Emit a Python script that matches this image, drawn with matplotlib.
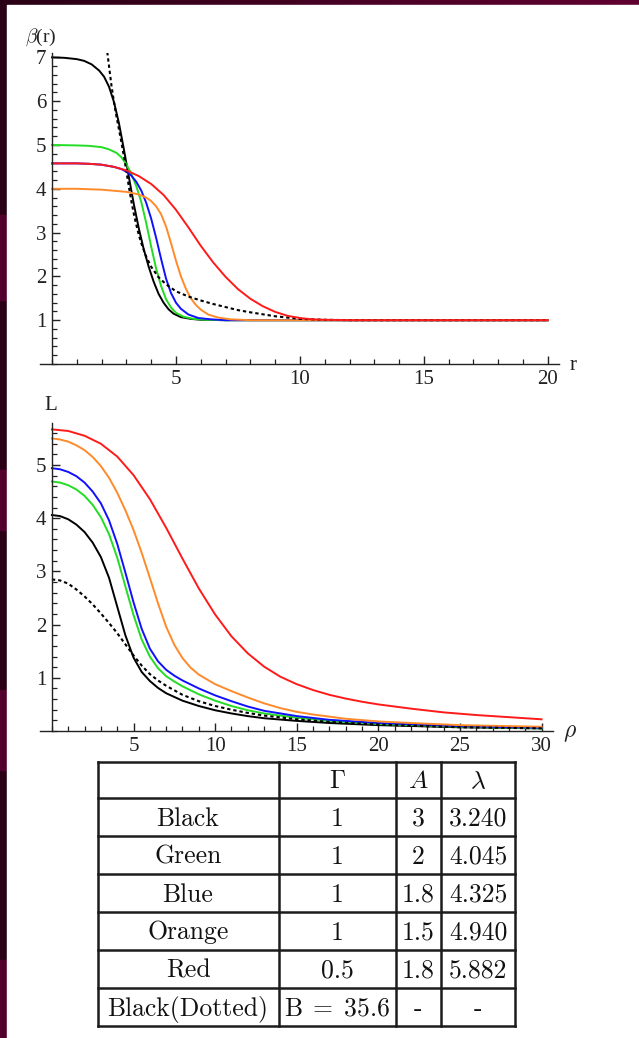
import matplotlib
matplotlib.use("Agg")
import matplotlib.pyplot as plt
import numpy as np
from matplotlib.patches import Rectangle
from matplotlib.ticker import MultipleLocator

plt.rcParams['mathtext.fontset'] = 'cm'
plt.rcParams['font.family'] = ['Liberation Serif', 'DejaVu Serif']

# ---- top panel : beta(r) ----
r_black = [0, 0.5, 1.0, 1.3, 1.6, 1.9, 2.1, 2.3, 2.5, 2.7, 2.9, 3.1, 3.3, 3.5, 3.7, 3.9, 4.1, 4.3, 4.5, 4.7, 4.9, 5.2, 5.6, 6.0, 7.0, 20]
b_black = [7.00, 6.99, 6.96, 6.92, 6.84, 6.70, 6.56, 6.33, 5.98, 5.50, 4.90, 4.27, 3.65, 3.10, 2.62, 2.22, 1.88, 1.60, 1.40, 1.25, 1.15, 1.07, 1.03, 1.01, 1.0, 1.0]
r_green = [0, 1.0, 1.5, 2.0, 2.3, 2.6, 2.8, 3.0, 3.2, 3.4, 3.6, 3.8, 4.0, 4.2, 4.4, 4.6, 4.8, 5.0, 5.3, 5.7, 6.2, 7.0, 20]
b_green = [5.0, 4.99, 4.98, 4.95, 4.90, 4.82, 4.72, 4.56, 4.34, 4.06, 3.70, 3.22, 2.68, 2.18, 1.78, 1.48, 1.29, 1.17, 1.08, 1.03, 1.01, 1.0, 1.0]
r_blue = [0, 1.0, 1.5, 2.0, 2.5, 2.8, 3.0, 3.2, 3.4, 3.6, 3.8, 4.0, 4.2, 4.4, 4.6, 4.8, 5.0, 5.2, 5.5, 5.9, 6.4, 7.0, 20]
b_blue = [4.58, 4.58, 4.57, 4.55, 4.50, 4.45, 4.39, 4.30, 4.16, 3.96, 3.68, 3.32, 2.88, 2.40, 1.95, 1.62, 1.40, 1.26, 1.13, 1.05, 1.02, 1.0, 1.0]
r_orange = [0, 1.0, 2.0, 3.0, 3.5, 3.8, 4.0, 4.2, 4.4, 4.6, 4.8, 5.0, 5.2, 5.4, 5.6, 5.8, 6.0, 6.3, 6.7, 7.2, 8.0, 20]
b_orange = [4.0, 4.0, 3.98, 3.93, 3.87, 3.80, 3.72, 3.60, 3.42, 3.14, 2.76, 2.36, 2.00, 1.72, 1.50, 1.35, 1.24, 1.13, 1.06, 1.02, 1.0, 1.0]
r_red = [0, 1, 1.5, 2, 2.5, 3, 3.5, 4, 4.5, 5, 5.5, 6, 6.5, 7, 7.5, 8, 8.5, 9, 9.5, 10, 10.5, 11, 12, 20]
b_red = [4.58, 4.58, 4.57, 4.55, 4.50, 4.42, 4.29, 4.11, 3.86, 3.52, 3.12, 2.70, 2.32, 1.99, 1.71, 1.49, 1.32, 1.19, 1.10, 1.05, 1.02, 1.01, 1.0, 1.0]
r_dot = [2.23, 2.3, 2.4, 2.5, 2.6, 2.7, 2.8, 2.9, 3.0, 3.1, 3.2, 3.3, 3.4, 3.5, 3.6, 3.8, 4.0, 4.3, 4.6, 5.0, 5.5, 6.0, 6.5, 7.0, 7.5, 8.0, 9.0, 10.0, 11.0, 12.0, 20]
b_dot = [7.12, 6.80, 6.35, 5.98, 5.65, 5.36, 5.06, 4.74, 4.40, 4.05, 3.72, 3.43, 3.18, 2.95, 2.76, 2.45, 2.22, 1.98, 1.82, 1.66, 1.54, 1.45, 1.37, 1.30, 1.23, 1.18, 1.09, 1.03, 1.01, 1.0, 1.0]

# ---- bottom panel : L(rho) ----
p_red = [0, 1, 2, 3, 4, 5, 6, 7, 8, 9, 10, 11, 12, 13, 14, 15, 16, 17, 18, 19, 20, 22, 24, 26, 28, 30]
L_red = [5.67, 5.64, 5.55, 5.40, 5.16, 4.81, 4.36, 3.82, 3.24, 2.68, 2.19, 1.78, 1.46, 1.21, 1.02, 0.88, 0.77, 0.68, 0.61, 0.55, 0.50, 0.42, 0.35, 0.30, 0.26, 0.22]
p_orange = [0, 0.5, 1, 1.5, 2, 2.5, 3, 3.5, 4, 4.5, 5, 5.5, 6, 6.5, 7, 7.5, 8, 8.5, 9, 10, 11, 12, 13, 14, 15, 16, 17, 18, 20, 22, 25, 30]
L_orange = [5.50, 5.48, 5.44, 5.37, 5.28, 5.15, 4.98, 4.76, 4.48, 4.15, 3.78, 3.35, 2.88, 2.40, 1.96, 1.62, 1.37, 1.19, 1.06, 0.88, 0.75, 0.63, 0.52, 0.43, 0.36, 0.31, 0.27, 0.23, 0.18, 0.15, 0.11, 0.08]
p_blue = [0, 0.5, 1, 1.5, 2, 2.5, 3, 3.5, 4, 4.5, 5, 5.5, 6, 6.5, 7, 7.5, 8, 9, 10, 11, 12, 13, 14, 15, 17, 20, 25, 30]
L_blue = [4.94, 4.92, 4.87, 4.79, 4.67, 4.50, 4.28, 3.96, 3.52, 2.98, 2.42, 1.92, 1.55, 1.31, 1.15, 1.04, 0.95, 0.80, 0.67, 0.56, 0.46, 0.38, 0.33, 0.28, 0.21, 0.15, 0.09, 0.06]
p_green = [0, 0.5, 1, 1.5, 2, 2.5, 3, 3.5, 4, 4.5, 5, 5.5, 6, 6.5, 7, 7.5, 8, 9, 10, 11, 12, 13, 14, 15, 17, 20, 25, 30]
L_green = [4.69, 4.67, 4.62, 4.54, 4.42, 4.25, 4.02, 3.70, 3.26, 2.72, 2.18, 1.72, 1.40, 1.18, 1.03, 0.93, 0.84, 0.69, 0.57, 0.47, 0.39, 0.33, 0.29, 0.25, 0.19, 0.13, 0.08, 0.05]
p_black = [0, 0.5, 1, 1.5, 2, 2.5, 3, 3.5, 4, 4.5, 5, 5.5, 6, 6.5, 7, 8, 9, 10, 11, 12, 13, 15, 17, 20, 25, 30]
L_black = [4.06, 4.04, 3.98, 3.88, 3.74, 3.54, 3.27, 2.88, 2.34, 1.80, 1.38, 1.11, 0.94, 0.81, 0.71, 0.57, 0.47, 0.39, 0.33, 0.28, 0.24, 0.19, 0.15, 0.11, 0.07, 0.05]
p_dot = [0, 0.5, 1, 1.5, 2, 2.5, 3, 3.5, 4, 4.5, 5, 5.5, 6, 6.5, 7, 8, 9, 10, 11, 12, 13, 15, 17, 20, 25, 30]
L_dot = [2.85, 2.83, 2.77, 2.66, 2.53, 2.38, 2.21, 2.03, 1.84, 1.63, 1.42, 1.23, 1.07, 0.95, 0.85, 0.68, 0.56, 0.47, 0.40, 0.34, 0.29, 0.22, 0.17, 0.12, 0.07, 0.05]

# ---- table ----
row_names = ["Black", "Green", "Blue", "Orange", "Red", "Black(Dotted)"]
gamma_vals = ["1", "1", "1", "1", "0.5", r"$\mathrm{B}\;=\;35.6$"]
A_vals = ["3", "2", "1.8", "1.5", "1.8", "-"]
lam_vals = ["3.240", "4.045", "4.325", "4.940", "5.882", "-"]
headers = ["", r"$\Gamma$", r"$A$", r"$\lambda$"]

c_black = "#000000"
c_green = "#22dd22"
c_blue = "#1010ff"
c_orange = "#ff8a2a"
c_red = "#ff1a1a"
c_text = "#222222"

W, H = 639, 1038
fig = plt.figure(figsize=(W / 100, H / 100), dpi=100)

# background frame
bg = fig.add_axes([0, 0, 1, 1])
bg.axis('off')
grad = np.linspace(0, 1, 200)
top_cols = np.zeros((1, 200, 3))
top_cols[0, :, 0] = 0.16 + 0.22 * grad
top_cols[0, :, 2] = 0.08 + 0.11 * grad
bg.imshow(top_cols, extent=[0, W, 6, 0], aspect='auto', zorder=0)
bg.add_patch(Rectangle((0, 0), 7, H, color='#2b0017', zorder=1))
for y0, h in [(215, 85), (470, 60), (690, 80), (960, 78)]:
    bg.add_patch(Rectangle((0, y0), 7, h, color='#5c0032', alpha=0.8, zorder=1))
bg.add_patch(Rectangle((7, 5), W - 7, H - 5, color='white', zorder=2))
bg.set_xlim(0, W)
bg.set_ylim(H, 0)


def style(ax):
    for s in ['top', 'right']:
        ax.spines[s].set_visible(False)
    ax.spines['left'].set_position(('data', 0))
    for s in ['left', 'bottom']:
        ax.spines[s].set_linewidth(1.0)
        ax.spines[s].set_color(c_text)
    ax.set_facecolor('none')
    ax.tick_params(which='major', direction='in', length=6, width=1.0, color=c_text,
                   pad=4, labelsize=15, labelcolor=c_text)
    ax.tick_params(which='minor', direction='in', length=3.5, width=0.9, color=c_text)


lw = 1.4
dot_style = (0, (1.6, 1.4))

ax1 = fig.add_axes([39.6 / W, 1 - 364 / H, (559 - 39.6) / W, (364 - 53) / H])
ax1.plot(r_black, b_black, color=c_black, lw=lw)
ax1.plot(r_green, b_green, color=c_green, lw=lw)
ax1.plot(r_blue, b_blue, color=c_blue, lw=lw)
ax1.plot(r_orange, b_orange, color=c_orange, lw=lw)
ax1.plot(r_dot, b_dot, color=c_black, lw=1.5, ls=dot_style)
ax1.plot(r_red, b_red, color=c_red, lw=lw)
ax1.set_xlim(-0.5, 20.45)
ax1.set_ylim(0, 7.1)
ax1.set_xticks([5, 10, 15, 20])
ax1.set_yticks([1, 2, 3, 4, 5, 6, 7])
ax1.xaxis.set_minor_locator(MultipleLocator(1))
ax1.yaxis.set_minor_locator(MultipleLocator(0.2))
style(ax1)

ax2 = fig.add_axes([40 / W, 1 - 731 / H, (553 - 40) / W, (731 - 423) / H])
ax2.plot(p_black, L_black, color=c_black, lw=lw)
ax2.plot(p_green, L_green, color=c_green, lw=lw)
ax2.plot(p_blue, L_blue, color=c_blue, lw=lw)
ax2.plot(p_orange, L_orange, color=c_orange, lw=lw)
ax2.plot(p_red, L_red, color=c_red, lw=lw)
ax2.plot(p_dot, L_dot, color=c_black, lw=1.5, ls=dot_style)
ax2.set_xlim(-0.73, 30.7)
ax2.set_ylim(0, 5.79)
ax2.set_xticks([5, 10, 15, 20, 25, 30])
ax2.set_yticks([1, 2, 3, 4, 5])
ax2.xaxis.set_minor_locator(MultipleLocator(1))
ax2.yaxis.set_minor_locator(MultipleLocator(0.2))
style(ax2)

# axis labels
bg.text(41, 37, r'$\beta$(r)', fontsize=14, ha='center', va='center', color=c_text, zorder=5)
bg.text(573, 366, 'r', fontsize=15, ha='center', va='center', color=c_text, zorder=5)
bg.text(51, 405, 'L', fontsize=15, ha='center', va='center', color=c_text, zorder=5)
bg.text(570, 733, r'$\rho$', fontsize=17, ha='center', va='center', color=c_text, zorder=5)

# table
col_edges = [97.5, 278.5, 396, 441, 515]
row_edges = [762, 798, 836, 873.5, 911.5, 949.5, 987.5, 1026]
tcol = '#1c1c1c'
for x in col_edges:
    bg.plot([x, x], [row_edges[0], row_edges[-1]], color=tcol, lw=1.8, solid_capstyle='projecting', zorder=5)
for y in row_edges:
    bg.plot([col_edges[0], col_edges[-1]], [y, y], color=tcol, lw=1.8, solid_capstyle='projecting', zorder=5)

cells = [headers] + [[row_names[i], gamma_vals[i], A_vals[i], lam_vals[i]] for i in range(len(row_names))]
for i, row in enumerate(cells):
    yb = row_edges[i + 1] - 10
    for j, txt in enumerate(row):
        if not txt:
            continue
        xc = (col_edges[j] + col_edges[j + 1]) / 2
        bg.text(xc, yb, txt, family='cmr10', fontsize=18.5, ha='center', va='baseline', color='#111111', zorder=6)

fig.savefig('out.png', dpi=100)
